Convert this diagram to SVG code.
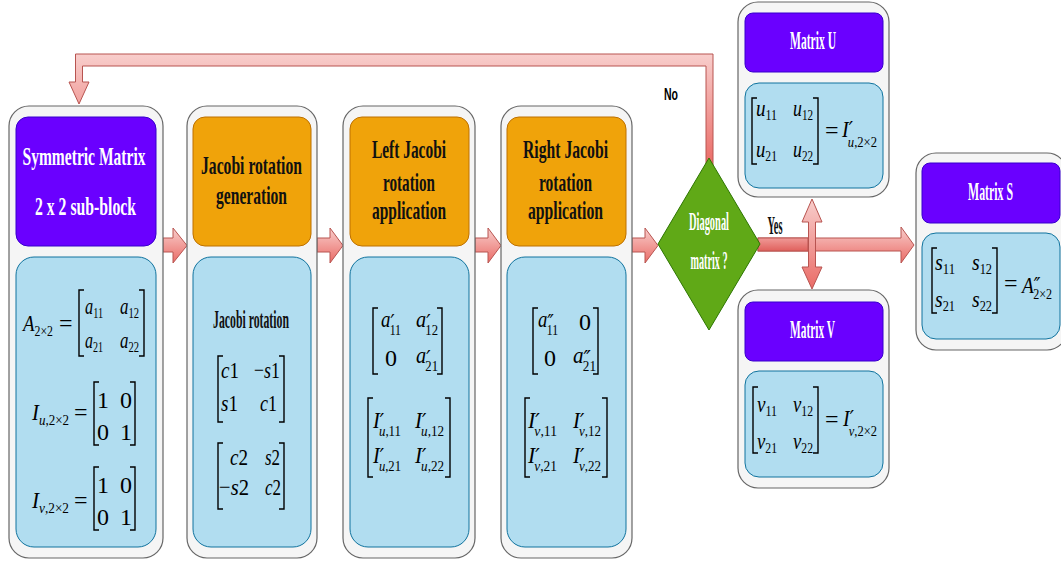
<svg xmlns="http://www.w3.org/2000/svg" width="1061" height="565" viewBox="0 0 1061 565">
  <defs>
    <linearGradient id="ag" x1="0" y1="0" x2="0" y2="1">
      <stop offset="0" stop-color="#f8cecc"/>
      <stop offset="1" stop-color="#ea6b66"/>
    </linearGradient>
    <linearGradient id="ag2" x1="0" y1="0" x2="0" y2="1">
      <stop offset="0" stop-color="#f09a97"/>
      <stop offset="1" stop-color="#e0605c"/>
    </linearGradient>
    <style>
      .outer{fill:#f5f5f5;stroke:#666;stroke-width:1.2}
      .hp{fill:#6a00ff;stroke:#3700cc;stroke-width:1}
      .ho{fill:#f0a30a;stroke:#bd7000;stroke-width:1}
      .bd{fill:#b1ddf0;stroke:#10739e;stroke-width:1}
      .arr{fill:url(#ag);stroke:#b85450;stroke-width:1}
      .ht{font-family:"Liberation Serif",serif;font-weight:bold;text-anchor:middle;font-size:25px;fill:#111}
      .wt{fill:#fff}
      .lb{font-family:"Liberation Sans",sans-serif;font-weight:bold;font-size:16px;fill:#000}
      .mi{font-family:"Liberation Serif",serif;font-style:italic;font-size:24px;fill:#000}
      .mn{font-style:normal}
      .sb{font-size:15px}
      .pr{font-family:"DejaVu Sans",sans-serif;font-size:22px;font-style:italic}
      .br{fill:none;stroke:#000;stroke-width:1.4}
    </style>
  </defs>

  <!-- connectors -->
  <g id="connectors">
    <!-- "No" loop back to the first block -->
    <polygon class="arr" points="706,165 706,66 82.5,66 82.5,82 89,82 79,104 69,82 75.5,82 75.5,54 713,54 713,165"/>
    <!-- flow arrows -->
    <polygon class="arr" points="163,238 173,238 173,228 187,245.5 173,263 173,252 163,252"/>
    <polygon class="arr" points="317,238 330,238 330,228 343,245.5 330,263 330,252 317,252"/>
    <polygon class="arr" points="475,238 488,238 488,228 501,245.5 488,263 488,252 475,252"/>
    <polygon class="arr" points="632,238 645,238 645,228 658,245.5 645,263 645,252 632,252"/>
    <!-- "Yes" branch to Matrix S -->
    <polygon class="arr" points="758,238 901,238 901,227 914,245 901,263 901,251 758,251"/>
    <rect x="758" y="238" width="50" height="13" fill="url(#ag2)" stroke="#b85450" stroke-width="1"/>
    <!-- double arrow to Matrix U / Matrix V -->
    <polygon class="arr" points="808.5,222 802,222 812,199 822,222 815.5,222 815.5,267 822,267 812,289 802,267 808.5,267"/>
    <text class="lb" x="664" y="100" textLength="14" lengthAdjust="spacingAndGlyphs">No</text>
    <text class="ht" x="775" y="234" font-size="17" fill="#000" textLength="15" lengthAdjust="spacingAndGlyphs">Yes</text>
  </g>

  <!-- block 1: symmetric matrix -->
  <g id="sym">
    <rect class="outer" x="9" y="106" width="154" height="452" rx="20"/>
    <rect class="hp" x="16" y="117" width="140" height="129" rx="12"/>
    <text class="ht wt" x="84" y="165" font-size="27" textLength="123" lengthAdjust="spacingAndGlyphs">Symmetric Matrix</text>
    <text class="ht wt" x="85.5" y="215" font-size="27" textLength="101" lengthAdjust="spacingAndGlyphs">2 x 2 sub-block</text>
    <rect class="bd" x="16" y="257" width="140" height="290" rx="18"/>
    <text class="mi" x="23" y="331" textLength="30" lengthAdjust="spacingAndGlyphs">A<tspan class="sb mn" dy="5">2×2</tspan></text>
    <text class="mi mn" x="59" y="331">=</text>
    <path class="br" d="M84,290H79V356H84M139,290H144V356H139"/>
    <text class="mi" x="85" y="314" textLength="18" lengthAdjust="spacingAndGlyphs">a<tspan class="sb mn" dy="4">11</tspan></text>
    <text class="mi" x="120" y="314" textLength="19" lengthAdjust="spacingAndGlyphs">a<tspan class="sb mn" dy="4">12</tspan></text>
    <text class="mi" x="85" y="348" textLength="18" lengthAdjust="spacingAndGlyphs">a<tspan class="sb mn" dy="4">21</tspan></text>
    <text class="mi" x="120" y="348" textLength="19" lengthAdjust="spacingAndGlyphs">a<tspan class="sb mn" dy="4">22</tspan></text>

    <text class="mi" x="32" y="420" textLength="37" lengthAdjust="spacingAndGlyphs">I<tspan class="sb" dy="5">u</tspan><tspan class="sb mn">,2×2</tspan></text>
    <text class="mi mn" x="74" y="420">=</text>
    <path class="br" d="M99,382H94V445H99M130,382H135V445H130"/>
    <text class="mi mn" x="97" y="408" font-size="25">1</text>
    <text class="mi mn" x="120" y="408" font-size="25">0</text>
    <text class="mi mn" x="97" y="440" font-size="25">0</text>
    <text class="mi mn" x="120" y="440" font-size="25">1</text>

    <text class="mi" x="32" y="508" textLength="37" lengthAdjust="spacingAndGlyphs">I<tspan class="sb" dy="5">v</tspan><tspan class="sb mn">,2×2</tspan></text>
    <text class="mi mn" x="74" y="508">=</text>
    <path class="br" d="M99,467H94V530H99M130,467H135V530H130"/>
    <text class="mi mn" x="97" y="493" font-size="25">1</text>
    <text class="mi mn" x="120" y="493" font-size="25">0</text>
    <text class="mi mn" x="97" y="525" font-size="25">0</text>
    <text class="mi mn" x="120" y="525" font-size="25">1</text>
  </g>

  <!-- block 2: rotation generation -->
  <g id="gen">
    <rect class="outer" x="187" y="106" width="130" height="452" rx="20"/>
    <rect class="ho" x="193" y="117" width="118" height="129" rx="12"/>
    <text class="ht" x="251.5" y="174" textLength="101" lengthAdjust="spacingAndGlyphs">Jacobi rotation</text>
    <text class="ht" x="251.5" y="204" textLength="71" lengthAdjust="spacingAndGlyphs">generation</text>
    <rect class="bd" x="193" y="257" width="118" height="290" rx="18"/>
    <text class="ht" x="251" y="328" font-size="20" textLength="76" lengthAdjust="spacingAndGlyphs">Jacobi rotation</text>
    <path class="br" d="M223,356H218V422H223M279,356H284V422H279"/>
    <text class="mi" x="221" y="378" textLength="18" lengthAdjust="spacingAndGlyphs">c<tspan class="mn">1</tspan></text>
    <text class="mi" x="254" y="378" textLength="26" lengthAdjust="spacingAndGlyphs"><tspan class="mn">−</tspan>s<tspan class="mn">1</tspan></text>
    <text class="mi" x="221" y="411" textLength="17" lengthAdjust="spacingAndGlyphs">s<tspan class="mn">1</tspan></text>
    <text class="mi" x="260" y="411" textLength="17" lengthAdjust="spacingAndGlyphs">c<tspan class="mn">1</tspan></text>
    <path class="br" d="M223,443H218V509H223M279,443H284V509H279"/>
    <text class="mi" x="230" y="465" textLength="18" lengthAdjust="spacingAndGlyphs">c<tspan class="mn">2</tspan></text>
    <text class="mi" x="265" y="465" textLength="15" lengthAdjust="spacingAndGlyphs">s<tspan class="mn">2</tspan></text>
    <text class="mi" x="219" y="495" textLength="30" lengthAdjust="spacingAndGlyphs"><tspan class="mn">−</tspan>s<tspan class="mn">2</tspan></text>
    <text class="mi" x="265" y="495" textLength="16" lengthAdjust="spacingAndGlyphs">c<tspan class="mn">2</tspan></text>
  </g>

  <!-- block 3: left rotation -->
  <g id="left">
    <rect class="outer" x="343" y="106" width="132" height="452" rx="20"/>
    <rect class="ho" x="350" y="117" width="119" height="129" rx="12"/>
    <text class="ht" x="409" y="158" textLength="74" lengthAdjust="spacingAndGlyphs">Left Jacobi</text>
    <text class="ht" x="409" y="191" textLength="52" lengthAdjust="spacingAndGlyphs">rotation</text>
    <text class="ht" x="409" y="219" textLength="74" lengthAdjust="spacingAndGlyphs">application</text>
    <rect class="bd" x="350" y="257" width="119" height="290" rx="18"/>
    <path class="br" d="M378,308H373V374H378M437,308H442V374H437"/>
    <text class="mi" x="381" y="327" textLength="20" lengthAdjust="spacingAndGlyphs">a<tspan class="pr" dy="3">′</tspan><tspan class="sb mn" dx="-6" dy="5">11</tspan></text>
    <text class="mi" x="416" y="327" textLength="22" lengthAdjust="spacingAndGlyphs">a<tspan class="pr" dy="3">′</tspan><tspan class="sb mn" dx="-6" dy="5">12</tspan></text>
    <text class="mi mn" x="385" y="366" font-size="25">0</text>
    <text class="mi" x="416" y="363" textLength="22" lengthAdjust="spacingAndGlyphs">a<tspan class="pr" dy="3">′</tspan><tspan class="sb mn" dx="-6" dy="5">21</tspan></text>
    <path class="br" d="M373,398H368V477H373M445,398H450V477H445"/>
    <text class="mi" x="373" y="428" textLength="28" lengthAdjust="spacingAndGlyphs">I<tspan class="pr" dy="1">′</tspan><tspan class="sb" dx="-6" dy="7">u</tspan><tspan class="sb mn">,11</tspan></text>
    <text class="mi" x="415" y="428" textLength="29" lengthAdjust="spacingAndGlyphs">I<tspan class="pr" dy="1">′</tspan><tspan class="sb" dx="-6" dy="7">u</tspan><tspan class="sb mn">,12</tspan></text>
    <text class="mi" x="373" y="463" textLength="28" lengthAdjust="spacingAndGlyphs">I<tspan class="pr" dy="1">′</tspan><tspan class="sb" dx="-6" dy="7">u</tspan><tspan class="sb mn">,21</tspan></text>
    <text class="mi" x="415" y="463" textLength="29" lengthAdjust="spacingAndGlyphs">I<tspan class="pr" dy="1">′</tspan><tspan class="sb" dx="-6" dy="7">u</tspan><tspan class="sb mn">,22</tspan></text>
  </g>

  <!-- block 4: right rotation -->
  <g id="right">
    <rect class="outer" x="501" y="106" width="131" height="452" rx="20"/>
    <rect class="ho" x="507" y="117" width="119" height="129" rx="12"/>
    <text class="ht" x="565.5" y="158" textLength="85" lengthAdjust="spacingAndGlyphs">Right Jacobi</text>
    <text class="ht" x="565.5" y="191" textLength="53" lengthAdjust="spacingAndGlyphs">rotation</text>
    <text class="ht" x="565.5" y="219" textLength="75" lengthAdjust="spacingAndGlyphs">application</text>
    <rect class="bd" x="507" y="257" width="119" height="290" rx="18"/>
    <path class="br" d="M538,308H533V374H538M593,308H598V374H593"/>
    <text class="mi" x="538" y="327" textLength="20" lengthAdjust="spacingAndGlyphs">a<tspan class="pr" dy="3">″</tspan><tspan class="sb mn" dx="-9" dy="5">11</tspan></text>
    <text class="mi mn" x="579" y="330" font-size="25">0</text>
    <text class="mi mn" x="544" y="366" font-size="25">0</text>
    <text class="mi" x="573" y="363" textLength="23" lengthAdjust="spacingAndGlyphs">a<tspan class="pr" dy="3">″</tspan><tspan class="sb mn" dx="-9" dy="5">21</tspan></text>
    <path class="br" d="M530,398H525V477H530M602,398H607V477H602"/>
    <text class="mi" x="528" y="428" textLength="29" lengthAdjust="spacingAndGlyphs">I<tspan class="pr" dy="1">′</tspan><tspan class="sb" dx="-6" dy="7">v</tspan><tspan class="sb mn">,11</tspan></text>
    <text class="mi" x="573" y="428" textLength="28" lengthAdjust="spacingAndGlyphs">I<tspan class="pr" dy="1">′</tspan><tspan class="sb" dx="-6" dy="7">v</tspan><tspan class="sb mn">,12</tspan></text>
    <text class="mi" x="528" y="463" textLength="29" lengthAdjust="spacingAndGlyphs">I<tspan class="pr" dy="1">′</tspan><tspan class="sb" dx="-6" dy="7">v</tspan><tspan class="sb mn">,21</tspan></text>
    <text class="mi" x="573" y="463" textLength="28" lengthAdjust="spacingAndGlyphs">I<tspan class="pr" dy="1">′</tspan><tspan class="sb" dx="-6" dy="7">v</tspan><tspan class="sb mn">,22</tspan></text>
  </g>

  <!-- decision -->
  <g id="decision">
    <polygon points="709,158 760,244 709,330 658,244" fill="#60a917" stroke="#2d7600" stroke-width="1"/>
    <text class="ht wt" x="709" y="230" font-size="16" textLength="40" lengthAdjust="spacingAndGlyphs">Diagonal</text>
    <text class="ht wt" x="709" y="269" font-size="16" textLength="37" lengthAdjust="spacingAndGlyphs">matrix ?</text>
  </g>

  <!-- result U -->
  <g id="matU">
    <rect class="outer" x="738" y="2" width="151" height="195" rx="20"/>
    <rect class="hp" x="745" y="13" width="138" height="59" rx="8"/>
    <text class="ht wt" x="813" y="49" font-size="19" textLength="46" lengthAdjust="spacingAndGlyphs">Matrix U</text>
    <rect class="bd" x="745" y="83" width="138" height="105" rx="14"/>
    <path class="br" d="M757,98H752V164H757M813,98H818V164H813"/>
    <text class="mi" x="756" y="116" textLength="21" lengthAdjust="spacingAndGlyphs">u<tspan class="sb mn" dy="4">11</tspan></text>
    <text class="mi" x="793" y="116" textLength="20" lengthAdjust="spacingAndGlyphs">u<tspan class="sb mn" dy="4">12</tspan></text>
    <text class="mi" x="756" y="157" textLength="21" lengthAdjust="spacingAndGlyphs">u<tspan class="sb mn" dy="4">21</tspan></text>
    <text class="mi" x="793" y="157" textLength="20" lengthAdjust="spacingAndGlyphs">u<tspan class="sb mn" dy="4">22</tspan></text>
    <text class="mi mn" x="825" y="138">=</text>
    <text class="mi" x="842" y="137" textLength="35" lengthAdjust="spacingAndGlyphs">I<tspan class="pr" dy="0">′</tspan><tspan class="sb" dx="-6" dy="10">u</tspan><tspan class="sb mn">,2×2</tspan></text>
  </g>

  <!-- result V -->
  <g id="matV">
    <rect class="outer" x="738" y="290" width="151" height="198" rx="20"/>
    <rect class="hp" x="745" y="302" width="138" height="59" rx="8"/>
    <text class="ht wt" x="812.5" y="338" font-size="19" textLength="45" lengthAdjust="spacingAndGlyphs">Matrix V</text>
    <rect class="bd" x="745" y="371" width="138" height="106" rx="14"/>
    <path class="br" d="M758,387H753V453H758M813,387H818V453H813"/>
    <text class="mi" x="757" y="412" textLength="20" lengthAdjust="spacingAndGlyphs">v<tspan class="sb mn" dy="4">11</tspan></text>
    <text class="mi" x="793" y="412" textLength="20" lengthAdjust="spacingAndGlyphs">v<tspan class="sb mn" dy="4">12</tspan></text>
    <text class="mi" x="757" y="449" textLength="20" lengthAdjust="spacingAndGlyphs">v<tspan class="sb mn" dy="4">21</tspan></text>
    <text class="mi" x="793" y="449" textLength="20" lengthAdjust="spacingAndGlyphs">v<tspan class="sb mn" dy="4">22</tspan></text>
    <text class="mi mn" x="825" y="427">=</text>
    <text class="mi" x="843" y="426" textLength="34" lengthAdjust="spacingAndGlyphs">I<tspan class="pr" dy="0">′</tspan><tspan class="sb" dx="-6" dy="10">v</tspan><tspan class="sb mn">,2×2</tspan></text>
  </g>

  <!-- result S -->
  <g id="matS">
    <rect class="outer" x="916" y="153" width="151" height="197" rx="20"/>
    <rect class="hp" x="922" y="163" width="138" height="60" rx="8"/>
    <text class="ht wt" x="990.5" y="200" font-size="19" textLength="45" lengthAdjust="spacingAndGlyphs">Matrix S</text>
    <rect class="bd" x="922" y="233" width="138" height="106" rx="14"/>
    <path class="br" d="M937,248H932V313H937M992,248H997V313H992"/>
    <text class="mi" x="935" y="270" textLength="20" lengthAdjust="spacingAndGlyphs">s<tspan class="sb mn" dy="4">11</tspan></text>
    <text class="mi" x="972" y="270" textLength="20" lengthAdjust="spacingAndGlyphs">s<tspan class="sb mn" dy="4">12</tspan></text>
    <text class="mi" x="935" y="307" textLength="20" lengthAdjust="spacingAndGlyphs">s<tspan class="sb mn" dy="4">21</tspan></text>
    <text class="mi" x="972" y="307" textLength="20" lengthAdjust="spacingAndGlyphs">s<tspan class="sb mn" dy="4">22</tspan></text>
    <text class="mi mn" x="1004" y="291">=</text>
    <text class="mi" x="1022" y="293" textLength="30" lengthAdjust="spacingAndGlyphs">A<tspan class="pr" dy="0">″</tspan><tspan class="sb mn" dx="-9" dy="6">2×2</tspan></text>
  </g>
</svg>
